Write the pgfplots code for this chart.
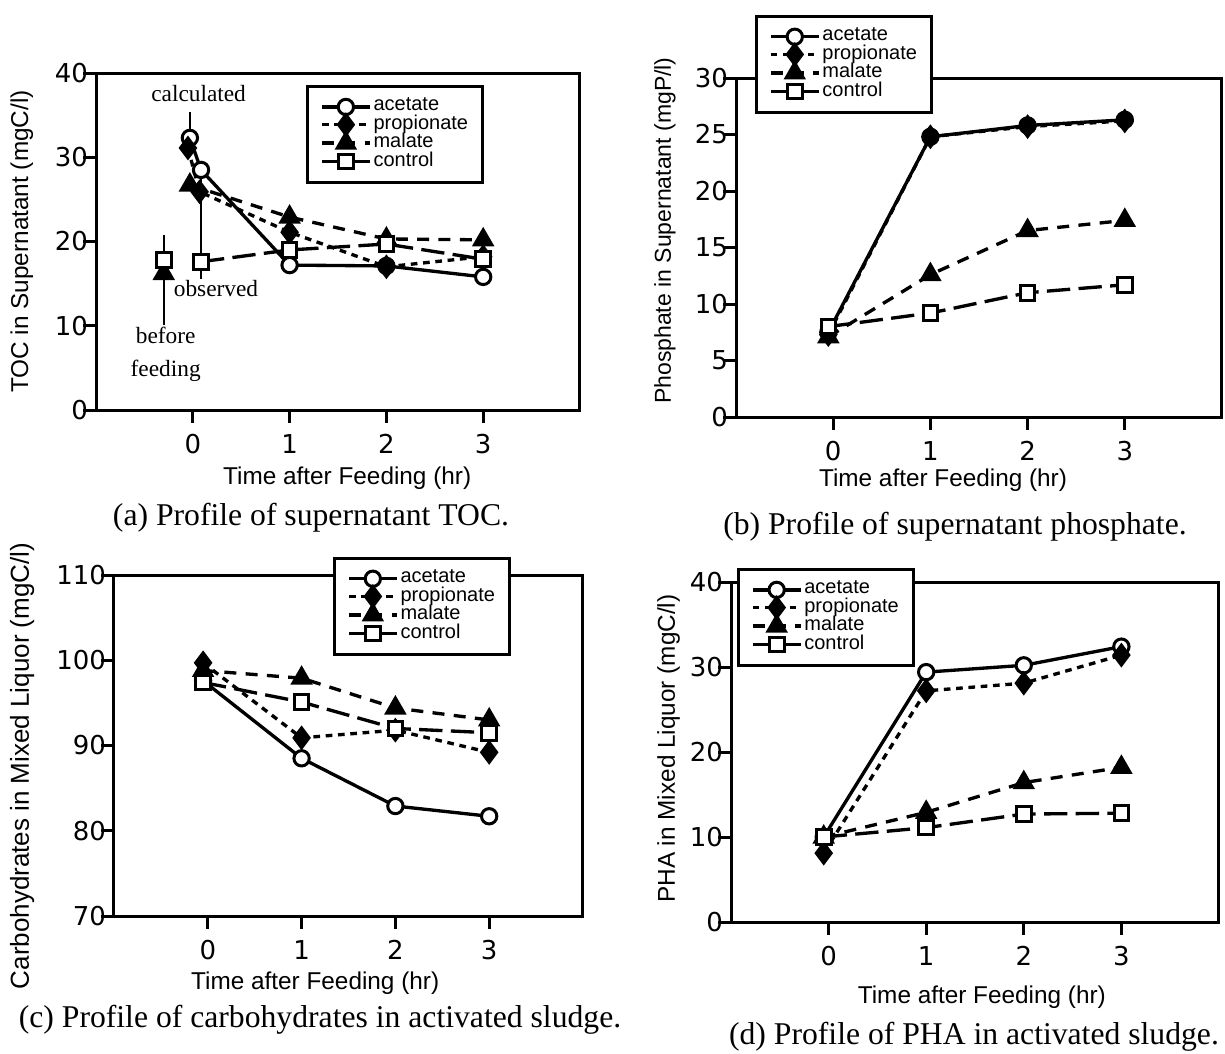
\documentclass[border=0pt]{standalone}
\usepackage{fontspec}
\setmainfont{Liberation Sans}
\newfontfamily\serifcap{Liberation Serif}
\newfontfamily\dejavu{DejaVu Sans}
\usepackage{pgfplots}
\pgfplotsset{compat=1.18}

\pgfplotsset{
  panel/.style={
    scale only axis,
    xmin=-1, xmax=4, xtick={0,1,2,3},
    axis line style={line width=0.9pt},
    tick style={black, line width=0.9pt},
    tick align=outside, tick pos=left,
    major tick length=3.8pt,
    tick label style={font=\dejavu\fontsize{7.8}{8}\selectfont},
    yticklabel style={inner xsep=0.6pt, xshift=2.2pt},
    /pgf/number format/assume math mode=true,
    label style={font=\fontsize{7.3}{8}\selectfont},
    xlabel={Time after Feeding (hr)},
    clip=false,
    legend cell align=left,
    legend style={draw=black, line width=0.9pt, fill=white, anchor=north west,
      font=\fontsize{6}{6}\selectfont, inner xsep=3.8pt, inner ysep=2.8pt,
      row sep=-1.5pt, nodes={inner sep=0.6pt}},
    legend image code/.code={\draw[mark repeat=2,mark phase=2,##1]
      plot coordinates {(0pt,0pt) (7.2pt,0pt) (14.4pt,0pt)};},
  },
  acet/.style={black, line width=1pt, mark=*, mark size=2.3pt,
    mark options={solid, fill=white, line width=0.9pt}},
  prop/.style={black, line width=1pt, dash pattern=on 2pt off 1.7pt,
    mark=diamond*, mark size=2.9pt, mark options={solid, fill=black}},
  mal/.style={black, line width=1pt, dash pattern=on 3.6pt off 2.8pt,
    mark=triangle*, mark size=2.9pt, mark options={solid, fill=black}},
  ctrl/.style={black, line width=1pt, dash pattern=on 7pt off 2.5pt,
    mark=square*, mark size=2.2pt, mark options={solid, fill=white, line width=0.9pt}},
}

\begin{document}
\begin{tikzpicture}
\useasboundingbox (0,0) rectangle (367.5pt,-316.2pt);

% (a) supernatant TOC
\begin{axis}[panel, at={(28.8pt,-123pt)}, anchor=south west,
    width=145.2pt, height=101.1pt,
    ymin=0, ymax=40, ytick={0,10,20,30,40},
    ylabel={TOC in Supernatant (mgC/l)},
    ylabel style={at={(axis description cs:-0.153,0.5)}, anchor=center},
    xlabel style={at={(axis description cs:0.519,-0.202)}, anchor=center},
    legend style={at={(0.434,0.964)}}]
\addplot[acet] coordinates {(-0.03,32.3) (0.085,28.5) (1,17.2) (2,17.1) (3,15.8)};
\addplot[prop] coordinates {(-0.05,31.1) (0.07,25.9) (1,21.1) (2,17.0) (3,18.2)};
\addplot[mal] coordinates {(-0.03,26.7) (1,22.9) (2,20.3) (3,20.2)};
\addplot[ctrl] coordinates {(0.085,17.6) (1,19.0) (2,19.7) (3,17.9)};
\legend{acetate, propionate, malate, control}
\addplot[mal, only marks, forget plot] coordinates {(-0.3,16.2)};
\addplot[ctrl, only marks, forget plot] coordinates {(-0.3,17.8)};
\draw[line width=0.5pt] (axis cs:-0.03,35.4) -- (axis cs:-0.03,31.2);
\draw[line width=0.5pt] (axis cs:0.085,28.5) -- (axis cs:0.085,15.6);
\draw[line width=0.5pt] (axis cs:-0.3,20.8) -- (axis cs:-0.3,10.1);
\begin{scope}[every node/.style={font=\serifcap\fontsize{7}{8}\selectfont}]
\node at (axis cs:0.06,37.6) {calculated};
\node at (axis cs:0.24,14.4) {observed};
\node at (axis cs:-0.28,8.8) {before};
\node at (axis cs:-0.28,4.7) {feeding};
\end{scope}
\end{axis}

% (b) supernatant phosphate
\begin{axis}[panel, at={(220.8pt,-125.1pt)}, anchor=south west,
    width=145.8pt, height=101.7pt,
    ymin=0, ymax=30, ytick={0,5,10,15,20,25,30},
    ylabel={Phosphate in Supernatant (mgP/l)},
    label style={font=\fontsize{6.9}{8}\selectfont},
    ylabel style={at={(axis description cs:-0.146,0.55)}, anchor=center},
    xlabel style={at={(axis description cs:0.426,-0.186)}, anchor=center,
      font=\fontsize{7.3}{8}\selectfont},
    legend style={at={(0.039,1.186)}}]
\addplot[acet] coordinates {(-0.05,7.5) (1,24.8) (2,25.8) (3,26.3)};
\addplot[prop] coordinates {(-0.05,7.3) (1,24.8) (2,25.7) (3,26.2)};
\addplot[mal] coordinates {(-0.05,7.1) (1,12.6) (2,16.5) (3,17.4)};
\addplot[ctrl] coordinates {(-0.05,8.0) (1,9.2) (2,11.0) (3,11.7)};
\legend{acetate, propionate, malate, control}
\end{axis}

% (c) carbohydrates
\begin{axis}[panel, at={(34.2pt,-274.8pt)}, anchor=south west,
    width=140.7pt, height=102.3pt,
    ymin=70, ymax=110, ytick={70,80,90,100,110},
    ylabel={Carbohydrates in Mixed Liquor (mgC/l)},
    ylabel style={at={(axis description cs:-0.196,0.44)}, anchor=center,
      font=\fontsize{7.8}{8}\selectfont},
    xlabel style={at={(axis description cs:0.429,-0.196)}, anchor=center},
    legend style={at={(0.467,1.053)}}]
\addplot[acet] coordinates {(-0.05,97.6) (1,88.5) (2,82.9) (3,81.7)};
\addplot[prop] coordinates {(-0.05,99.7) (1,90.9) (2,91.8) (3,89.2)};
\addplot[mal] coordinates {(-0.05,98.8) (1,97.9) (2,94.4) (3,93.0)};
\addplot[ctrl] coordinates {(-0.05,97.4) (1,95.1) (2,92.0) (3,91.5)};
\legend{acetate, propionate, malate, control}
\end{axis}

% (d) PHA
\begin{axis}[panel, at={(219.3pt,-276.6pt)}, anchor=south west,
    width=146.4pt, height=102pt,
    ymin=0, ymax=40, ytick={0,10,20,30,40},
    ylabel={PHA in Mixed Liquor (mgC/l)},
    ylabel style={at={(axis description cs:-0.128,0.51)}, anchor=center},
    xlabel style={at={(axis description cs:0.514,-0.221)}, anchor=center},
    legend style={at={(0.012,1.041)}}]
\addplot[acet] coordinates {(-0.05,10.0) (1,29.4) (2,30.2) (3,32.4)};
\addplot[prop] coordinates {(-0.05,8.1) (1,27.2) (2,28.1) (3,31.4)};
\addplot[mal] coordinates {(-0.05,10.0) (1,12.9) (2,16.4) (3,18.2)};
\addplot[ctrl] coordinates {(-0.05,10.0) (1,11.1) (2,12.7) (3,12.8)};
\legend{acetate, propionate, malate, control}
\end{axis}

\begin{scope}[every node/.style={font=\serifcap\fontsize{9.5}{10}\selectfont}]
\node at (93.3pt,-155.4pt) {(a) Profile of supernatant TOC.};
\node at (286.5pt,-158.1pt) {(b) Profile of supernatant phosphate.};
\node at (96pt,-306pt) {(c) Profile of carbohydrates in activated sludge.};
\node at (292.2pt,-311.1pt) {(d) Profile of PHA in activated sludge.};
\end{scope}
\end{tikzpicture}
\end{document}
